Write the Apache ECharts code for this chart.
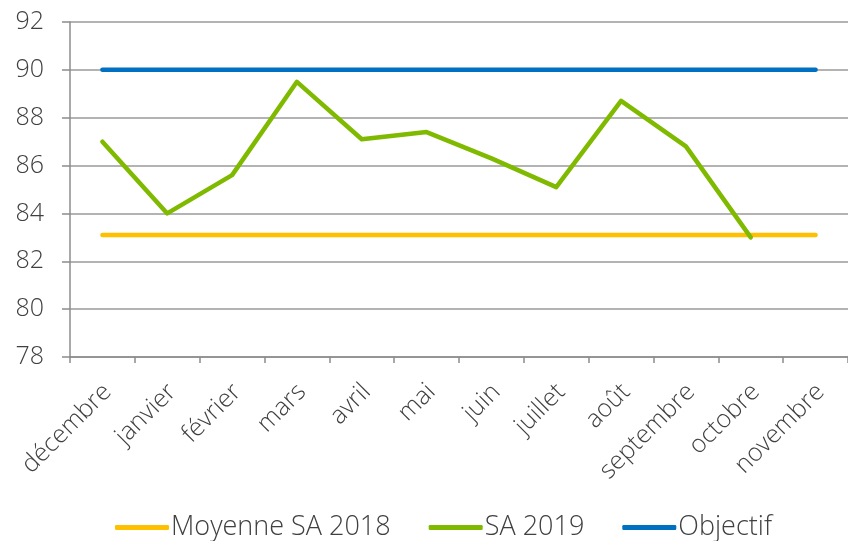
<!DOCTYPE html>
<html>
<head>
<meta charset="utf-8">
<script src="https://cdn.jsdelivr.net/npm/echarts@6/dist/echarts.min.js"></script>
<style>
  html, body { margin: 0; padding: 0; background: #fff; }
  #chart { width: 848px; height: 541px; }
</style>
</head>
<body>
<div id="chart"></div>
<script>
const months = ['décembre', 'janvier', 'février', 'mars', 'avril', 'mai', 'juin',
  'juillet', 'août', 'septembre', 'octobre', 'novembre'];
const moyenne2018 = [83.1, 83.1, 83.1, 83.1, 83.1, 83.1, 83.1, 83.1, 83.1, 83.1, 83.1, 83.1];
const sa2019 = [87.0, 84.0, 85.6, 89.5, 87.1, 87.4, 86.3, 85.1, 88.7, 86.8, 83.0, null];
const objectif = [90, 90, 90, 90, 90, 90, 90, 90, 90, 90, 90, 90];

const font = '"Open Sans", sans-serif';
const textColor = '#404040';

const myChart = echarts.init(document.getElementById('chart'));

const lineSeries = (name, data, color) => ({
  name: name,
  type: 'line',
  data: data,
  showSymbol: false,
  symbol: 'none',
  silent: true,
  lineStyle: { color: color, width: 4.5, cap: 'round', join: 'round' },
  itemStyle: { color: color }
});

let option = {
  animation: false,
  grid: { left: 70, top: 22, width: 784, height: 335, containLabel: false },
  legend: {
    top: 509,
    left: 110,
    icon: 'roundRect',
    itemWidth: 54,
    itemHeight: 5,
    itemGap: 38,
    textStyle: { fontFamily: font, fontSize: 27, fontWeight: 300, color: textColor, padding: [0, 0, 0, -3] },
    data: ['Moyenne SA 2018', 'SA 2019', 'Objectif']
  },
  xAxis: {
    type: 'category',
    data: months,
    boundaryGap: true,
    axisLine: { lineStyle: { color: '#8c8c8c', width: 1.5 } },
    axisTick: { show: true, length: 6, lineStyle: { color: '#8c8c8c', width: 1.5 } },
    axisLabel: {
      rotate: 45,
      interval: 0,
      margin: 36,
      padding: [0, -7, 0, 0],
      fontFamily: font,
      fontSize: 25,
      fontWeight: 300,
      color: textColor
    }
  },
  yAxis: {
    type: 'value',
    min: 78,
    max: 92,
    interval: 2,
    axisLine: { show: true, lineStyle: { color: '#8c8c8c', width: 1.5 } },
    axisTick: { show: true, length: 8, lineStyle: { color: '#8c8c8c', width: 1.5 } },
    splitLine: { lineStyle: { color: '#9a9a9a', width: 1.5 } },
    axisLabel: {
      margin: 26,
      fontFamily: font,
      fontSize: 25,
      fontWeight: 300,
      color: textColor
    }
  },
  series: [
    lineSeries('Moyenne SA 2018', moyenne2018, '#FFC000'),
    lineSeries('SA 2019', sa2019, '#7FBA00'),
    lineSeries('Objectif', objectif, '#0070C0')
  ]
};

myChart.setOption(option);
</script>
</body>
</html>
